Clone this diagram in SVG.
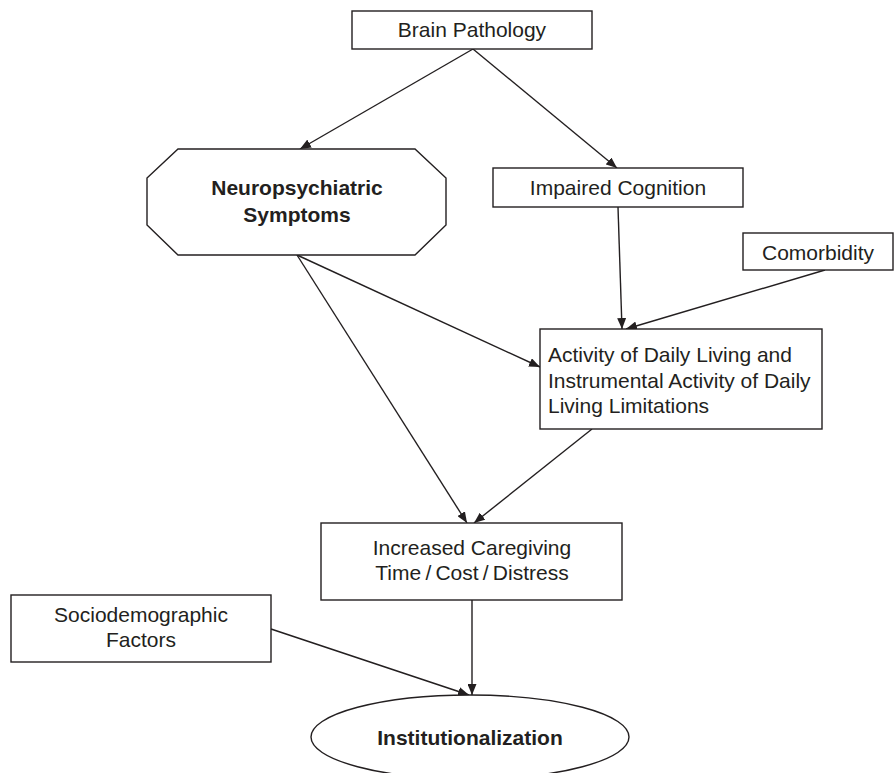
<svg xmlns="http://www.w3.org/2000/svg" width="894" height="773" viewBox="0 0 894 773">
<style>
  .box { fill: #ffffff; stroke: #231f20; stroke-width: 1.4; }
  .lbl { font-family: "Liberation Sans", Arial, sans-serif; font-size: 21px; fill: #231f20; }
  .c { text-anchor: middle; }
  .b { font-weight: bold; }
  .edge { stroke: #231f20; stroke-width: 1.4; fill: none; marker-end: url(#arr); }
</style>
<defs>
  <marker id="arr" markerUnits="userSpaceOnUse" markerWidth="12" markerHeight="9" refX="11" refY="4.5" orient="auto">
    <path d="M0,0 L11,4.5 L0,9 z" fill="#231f20"/>
  </marker>
</defs>
<rect width="894" height="773" fill="#ffffff"/>
<g id="connectors">
  <line class="edge" x1="473" y1="49" x2="300" y2="149"/>
  <line class="edge" x1="473" y1="49" x2="617" y2="168"/>
  <line class="edge" x1="618" y1="207" x2="622" y2="329"/>
  <line class="edge" x1="825" y1="270" x2="626" y2="329"/>
  <line class="edge" x1="297" y1="255" x2="540" y2="367"/>
  <line class="edge" x1="297" y1="255" x2="467" y2="523"/>
  <line class="edge" x1="592" y1="429" x2="474" y2="523"/>
  <line class="edge" x1="472" y1="600" x2="472" y2="695"/>
  <line class="edge" x1="271" y1="629" x2="469" y2="695"/>
</g>
<g id="brain-pathology">
  <rect class="box" x="352" y="11" width="240" height="38"/>
  <text class="lbl c" x="472" y="37">Brain Pathology</text>
</g>
<g id="neuropsychiatric-symptoms">
  <polygon class="box" points="178,149 415,149 446,178 446,225 415,255 178,255 147,225 147,178"/>
  <text class="lbl c b" x="297" y="195">Neuropsychiatric</text>
  <text class="lbl c b" x="297" y="222">Symptoms</text>
</g>
<g id="impaired-cognition">
  <rect class="box" x="493" y="168" width="250" height="39"/>
  <text class="lbl c" x="618" y="195">Impaired Cognition</text>
</g>
<g id="comorbidity">
  <rect class="box" x="743" y="233" width="150" height="37"/>
  <text class="lbl c" x="818" y="260">Comorbidity</text>
</g>
<g id="adl-limitations">
  <rect class="box" x="540" y="329" width="282" height="100"/>
  <text class="lbl" x="548" y="362">Activity of Daily Living and</text>
  <text class="lbl" x="548" y="388">Instrumental Activity of Daily</text>
  <text class="lbl" x="548" y="413">Living Limitations</text>
</g>
<g id="increased-caregiving">
  <rect class="box" x="321" y="523" width="301" height="77"/>
  <text class="lbl c" x="472" y="555">Increased Caregiving</text>
  <text class="lbl c" x="472" y="580">Time&#8201;/&#8201;Cost&#8201;/&#8201;Distress</text>
</g>
<g id="sociodemographic-factors">
  <rect class="box" x="11" y="595" width="260" height="67"/>
  <text class="lbl c" x="141" y="622">Sociodemographic</text>
  <text class="lbl c" x="141" y="647">Factors</text>
</g>
<g id="institutionalization">
  <ellipse class="box" cx="470" cy="737" rx="159" ry="42"/>
  <text class="lbl c b" x="470" y="745">Institutionalization</text>
</g>
</svg>
